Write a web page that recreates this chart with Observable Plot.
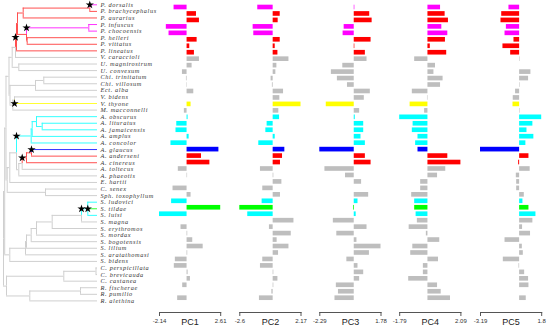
<!DOCTYPE html>
<html><head><meta charset="utf-8">
<script src="https://cdn.jsdelivr.net/npm/d3@7"></script>
<script src="https://cdn.jsdelivr.net/npm/@observablehq/plot@0.6"></script>
<style>
html,body{margin:0;padding:0;background:#fff;}
#chart{position:relative;width:550px;height:332px;overflow:hidden;background:#fff;}
#chart svg{position:absolute;left:0;top:0;}
</style></head><body><div id="chart"></div>
<script>
// ---------- data ----------
const species = ["P. dorsalis","P. brachycephalus","P. aurarius","P. infuscus","P. chocoensis","P. helleri","P. vittatus","P. lineatus",
"V. caraccioli","U. magnirostrum","U. convexum","Chi. trinitatum","Chi. villosum","Ect. alba","V. bidens","V. thyone","M. macconnelli",
"A. obscurus","A. lituratus","A. jamaicensis","A. amplus","A. concolor","A. glaucus","A. anderseni","A. cinereus","A. toltecus","A. phaeotis",
"E. hartii","C. senex","Sph. toxophyllum","S. ludovici","S. tildae","S. luisi","S. magna","S. erythromos","S. mordax","S. bogotensis",
"S. lilium","S. aratathomasi","S. bidens","C. perspicillata","C. brevicauda","C. castanea","R. fischerae","R. pumilio","R. alethina"];

// regime of each species (M magenta, R red, Y yellow, C cyan, B blue, G green, N none)
const regime = ["M","R","R","M","M","R","R","R","N","N","N","N","N","N","N","Y","N",
"C","C","C","C","C","B","R","R","N","N","N","N","N","C","G","C","N","N","N","N","N","N","N","N","N","N","N","N","N"];

const pc1 = [-1.01,0.73,0.96,-1.61,-1.40,0.78,0.21,0.57,0.96,0.39,-0.36,-0.05,0.03,0.52,0.00,0.31,-0.21,
0.08,-0.80,-0.86,0.16,-1.25,2.47,1.12,1.77,-0.68,0.04,0.00,-1.09,0.31,-1.20,2.61,-2.14,0.00,-0.47,0.05,0.44,
1.25,0.05,-0.91,-0.99,0.08,0.26,-0.34,0.00,-0.73];
const pc2 = [-1.20,0.55,0.39,-1.56,-1.51,0.55,0.16,0.37,1.23,0.29,0.21,-0.16,-0.06,0.81,0.52,2.17,0.44,
0.50,-0.47,-0.57,0.16,-1.12,0.91,0.73,0.57,-0.99,0.05,0.68,-0.81,0.57,-0.86,-2.60,-1.98,1.62,-0.29,1.41,0.31,
1.23,0.42,-0.81,-0.99,0.05,0.37,0.05,-0.10,-1.07];
const pc3 = [0.04,1.03,1.19,-0.67,-0.74,1.12,0.04,0.74,0.85,-0.76,-1.52,-1.12,-0.45,1.07,0.67,-1.86,0.36,
0.07,0.63,0.63,0.45,0.74,-2.29,0.74,1.12,-1.95,-0.58,0.49,0.00,0.96,0.25,-0.05,0.13,-1.39,0.85,-1.16,0.18,
1.78,1.01,-0.49,0.25,0.63,0.36,-1.19,-1.05,-1.28];
const pc4 = [0.80,1.09,1.30,0.88,1.26,1.11,0.15,1.19,-0.84,0.48,0.38,0.96,0.80,-0.99,-0.03,-1.13,-0.21,
-1.79,-0.94,-0.99,-0.63,-0.78,-0.63,1.26,2.09,1.13,0.61,-0.46,-0.46,-1.03,-0.84,-0.84,-0.75,-0.67,-1.19,-0.10,0.75,
-0.96,-1.09,0.67,-0.29,-0.29,-1.22,0.61,0.84,1.43];
const pc5 = [-0.87,-1.46,-1.52,-1.08,-1.19,-0.46,-1.36,-0.73,0.04,0.00,0.92,0.73,0.04,-0.33,-0.52,-0.54,0.04,
1.80,1.08,0.60,1.16,0.51,-3.19,0.76,-0.08,0.86,-0.27,-0.24,-0.24,0.38,0.27,0.76,1.33,1.08,0.24,0.89,-1.19,
0.22,0.30,-1.33,-0.05,0.41,0.73,0.76,0.00,0.54];

const pcNames = ["PC1","PC2","PC3","PC4","PC5"];
const pcMin = [-2.14,-2.6,-2.29,-1.79,-3.19];
const pcMax = [2.61,2.17,1.78,2.09,1.8];

// tree: internal nodes, their parents and depths (tips at depth 94)
const internalNodes = ["R","Steno","Caro","StenoCore","Stur","V","ADEC","A2","A3","A1","Uro","Proot","PN","N2","N4","N1","N3","N4a",
"ChiEct","VM","Chi","Vamp","ADE","CS","AD","Cyan","Der","C1","C2","C3","D1","DR","D2","S1","S1b","S3","S4","S5","S6","SC",
"Carollia","CP","Rhino","RF"];
const internalParents = [null,"R","R","Steno","Steno","StenoCore","StenoCore","V","V","A2","A2","A1","Proot","PN","PN","N2","N4","N4",
"A3","A3","ChiEct","VM","ADEC","ADEC","ADE","AD","AD","Cyan","C1","C2","Der","D1","DR","Stur","S1","S1b","S3","S4","S5","S6",
"Caro","Carollia","Caro","Rhino"];
const internalDepths = [0,1.2,3,2.5,6.3,5.5,3.7,8.7,6.5,12,15.3,13,14,19.7,23,86.3,85.3,23.7,
32,9.3,40.3,11,6.3,42,13,27.7,15.3,28.7,33,38.7,18.7,23,28,22,23,27.7,33,48.7,78,84.3,
60.3,92.5,26.3,77];
const tipParents = ["N1","N1","N2","N3","N3","N4a","N4a","Proot","A1","Uro","Uro","Chi","Chi","ChiEct","Vamp","Vamp","VM",
"C2","C3","C3","C1","Cyan","D2","D2","DR","D1","Der","ADE","CS","CS","SC","SC","SC","S6","S5","S4","S3","S1b","S1","Stur",
"CP","CP","Carollia","RF","RF","Rhino"];
const tipDepth = 94;

// branch regimes (edge named by its child)
const redEdges = ["Proot","PN","N2","N1","P. brachycephalus","P. aurarius","N4","N4a","P. helleri","P. vittatus","P. lineatus","DR","D2","A. anderseni","A. cinereus"];
const magentaEdges = ["P. dorsalis","N3","P. infuscus","P. chocoensis"];
const yellowEdges = ["V. thyone"];
const cyanEdges = ["Cyan","C1","C2","C3","A. obscurus","A. lituratus","A. jamaicensis","A. amplus","A. concolor","SC","S. ludovici","S. luisi"];
const blueEdges = ["A. glaucus"];
const greenEdges = ["S. tildae"];
const starEdges = ["P. dorsalis","Proot","N3","V. thyone","Cyan","A. glaucus","DR","SC","S. tildae"];

// ---------- styles ----------
const barColor = {M:"#ff00ff",R:"#ff0000",Y:"#ffff00",C:"#00ffff",B:"#0000ff",G:"#00ff00",N:"#bebebe"};
const lineColor = {M:"#ff33ff",R:"#ff5050",Y:"#ffff33",C:"#33ffff",B:"#3333ff",G:"#33ff33",N:"#cfcfcf"};
function edgeRegime(name){
  if (redEdges.includes(name)) return "R";
  if (magentaEdges.includes(name)) return "M";
  if (yellowEdges.includes(name)) return "Y";
  if (cyanEdges.includes(name)) return "C";
  if (blueEdges.includes(name)) return "B";
  if (greenEdges.includes(name)) return "G";
  return "N";
}

// ---------- tree layout ----------
const nodes = new Map();
internalNodes.forEach((n,i)=>nodes.set(n,{name:n,parent:internalParents[i],depth:internalDepths[i],children:[]}));
species.forEach((s,i)=>nodes.set(s,{name:s,parent:tipParents[i],depth:tipDepth,children:[],y:i}));
for (const n of nodes.values()) if (n.parent) nodes.get(n.parent).children.push(n);
function setY(n){ if(!n.children.length) return n.y; const ys=n.children.map(setY); n.y=(Math.min(...ys)+Math.max(...ys))/2; return n.y; }
setY(nodes.get("R"));
const edges = [...nodes.values()].filter(n=>n.parent).map(n=>{
  const p=nodes.get(n.parent);
  const r=edgeRegime(n.name);
  return {px:p.depth,py:p.y,cx:n.depth,cy:n.y,regime:r,color:lineColor[r],star:starEdges.includes(n.name)};
});
edges.sort((a,b)=>(a.regime==="N"?0:1)-(b.regime==="N"?0:1));
const stars = edges.filter(e=>e.star);
const tips = species.map((s,i)=>({name:s,i}));

const chart = document.getElementById("chart");

const tree = Plot.plot({
  width:550,height:332,margin:0,
  style:{background:"transparent",letterSpacing:"0.6px"},
  x:{domain:[0,94],range:[3,97],axis:null},
  y:{domain:[0,45],range:[4.3,300.4],axis:null},
  color:{type:"identity"},
  marks:[
    Plot.ruleX(edges,{x:"px",y1:"py",y2:"cy",stroke:"color",strokeWidth:1}),
    Plot.ruleY(edges,{y:"cy",x1:"px",x2:"cx",stroke:"color",strokeWidth:1}),
    Plot.dot(stars,{x:"px",y:"cy",symbol:"star",fill:"black",stroke:"none",r:2.6}),
    Plot.text(tips,{x:()=>tipDepth,y:"i",text:"name",dx:3,textAnchor:"start",fontStyle:"italic",
      fontFamily:"Liberation Serif",fontSize:6.3,fill:"#333"})
  ]
});
chart.appendChild(tree);

// ---------- PC bar panels ----------
const pcs = [pc1,pc2,pc3,pc4,pc5];
const panelLeft = [159,239.3,319.3,399.2,480];
const panelWidth = 61.2;
pcs.forEach((vals,k)=>{
  const data = species.map((s,i)=>({name:s,v:vals[i],fill:barColor[regime[i]]}));
  const L = panelLeft[k], R = L+panelWidth;
  const p = Plot.plot({
    width:550,height:332,marginLeft:L,marginRight:550-R,marginTop:0,marginBottom:20,
    style:{background:"transparent",fontFamily:"Liberation Sans"},
    x:{domain:[pcMin[k],pcMax[k]]},
    y:{type:"band",domain:species,range:[3.77,300.93],paddingInner:0.28,paddingOuter:0.14,round:false,axis:null},
    color:{type:"identity"},
    marks:[
      Plot.barX(data,{x:"v",y:"name",fill:"fill"}),
      Plot.frame({anchor:"bottom",stroke:"#555"}),
      Plot.axisX([pcMin[k],pcMax[k]],{anchor:"bottom",tickSize:4,tickPadding:2,fontSize:6,stroke:"#555",fill:"#333",
        tickFormat:d=>String(d),label:null}),
      Plot.text([pcNames[k]],{frameAnchor:"bottom",dy:10,fontSize:9,lineAnchor:"middle",fill:"#222"})
    ]
  });
  chart.appendChild(p);
});
</script></body></html>
